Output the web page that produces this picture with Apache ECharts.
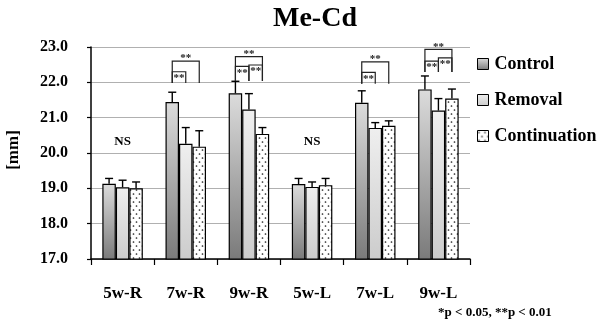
<!DOCTYPE html>
<html>
<head>
<meta charset="utf-8">
<script src="https://cdn.jsdelivr.net/npm/echarts@6/dist/echarts.min.js"></script>
<style>
html,body{margin:0;padding:0;background:#fff;}
#chart{width:600px;height:323px;}
</style>
</head>
<body>
<div id="chart"></div>
<script>
// ---- data ----
const categories = ['5w-R', '7w-R', '9w-R', '5w-L', '7w-L', '9w-L'];
const seriesNames = ['Control', 'Removal', 'Continuation'];
const control = [19.13, 21.44, 21.69, 19.12, 21.42, 21.80];
const controlSD = [0.15, 0.28, 0.34, 0.16, 0.34, 0.38];
const removal = [19.03, 20.26, 21.23, 19.04, 20.71, 21.20];
const removalSD = [0.20, 0.46, 0.45, 0.14, 0.15, 0.34];
const continuation = [19.00, 20.18, 20.54, 19.09, 20.77, 21.54];
const continuationSD = [0.18, 0.45, 0.18, 0.19, 0.14, 0.27];
const yTicks = [17, 18, 19, 20, 21, 22, 23];
// significance brackets: [category, fromBar, toBar, topValue, legBottomValue, text, textSide]
const brackets = [
  [1, 0, 2, 22.60, 21.98, '**', 'above'],
  [1, 0, 1, 22.30, 21.98, '**', 'below'],
  [2, 0, 2, 22.73, 22.04, '**', 'above'],
  [2, 0, 1, 22.45, 22.04, '**', 'below'],
  [2, 1, 2, 22.49, 22.04, '**', 'below'],
  [4, 0, 2, 22.58, 21.96, '**', 'above'],
  [4, 0, 1, 22.28, 21.96, '**', 'below'],
  [5, 0, 2, 22.93, 22.29, '**', 'above'],
  [5, 0, 1, 22.60, 22.29, '**', 'below'],
  [5, 1, 2, 22.69, 22.29, '**', 'below']
];
const nsLabels = [[0, 20.32, 'NS'], [3, 20.32, 'NS']];
const footnote = '*p < 0.05, **p < 0.01';

// ---- styles ----
const FONT = 'Liberation Serif';
const BAR_W = 13.5;
const dotCanvas = document.createElement('canvas');
dotCanvas.width = 6; dotCanvas.height = 8;
(function () {
  const c = dotCanvas.getContext('2d');
  c.fillStyle = '#ffffff'; c.fillRect(0, 0, 6, 8);
  c.fillStyle = '#222222';
  c.beginPath(); c.arc(1.5, 2, 0.85, 0, Math.PI * 2); c.fill();
  c.beginPath(); c.arc(4.5, 6, 0.85, 0, Math.PI * 2); c.fill();
})();
const fills = [
  new echarts.graphic.LinearGradient(0, 0, 0, 1, [{offset: 0, color: '#dcdcdc'}, {offset: 1, color: '#7a7a7a'}]),
  new echarts.graphic.LinearGradient(0, 0, 0, 1, [{offset: 0, color: '#efefef'}, {offset: 1, color: '#cccccc'}]),
  {image: dotCanvas, repeat: 'repeat'}
];
const values = [control, removal, continuation];
const sds = [controlSD, removalSD, continuationSD];

const barSeries = seriesNames.map((n, i) => ({
  name: n,
  type: 'bar',
  data: values[i],
  barWidth: BAR_W,
  barGap: '0%',
  itemStyle: {color: fills[i], borderColor: '#000', borderWidth: 1.2},
  z: 2
}));

const errSeries = seriesNames.map((n, i) => ({
  type: 'custom',
  data: values[i].map((v, k) => [k, v, sds[i][k]]),
  z: 3,
  silent: true,
  renderItem: function (params, api) {
    const b = api.coord([api.value(0), api.value(1)]);
    const t = api.coord([api.value(0), api.value(1) + api.value(2)]);
    const x = b[0] + (i - 1) * BAR_W;
    const st = {stroke: '#000', lineWidth: 1.4};
    return {type: 'group', children: [
      {type: 'line', shape: {x1: x, y1: b[1], x2: x, y2: t[1]}, style: st},
      {type: 'line', shape: {x1: x - 4, y1: t[1], x2: x + 4, y2: t[1]}, style: st}
    ]};
  }
}));

const bracketSeries = {
  type: 'custom',
  data: brackets.map(b => [b[0], b[1], b[2], b[3], b[4]]),
  z: 4,
  silent: true,
  renderItem: function (params, api) {
    const b = brackets[params.dataIndex];
    const top = api.coord([b[0], b[3]]);
    const bot = api.coord([b[0], b[4]]);
    const x1 = top[0] + (b[1] - 1) * BAR_W;
    const x2 = top[0] + (b[2] - 1) * BAR_W;
    const st = {stroke: '#222', lineWidth: 1.2, fill: null};
    const above = b[6] === 'above';
    return {type: 'group', children: [
      {type: 'polyline', shape: {points: [[x1, bot[1]], [x1, top[1]], [x2, top[1]], [x2, bot[1]]]}, style: st},
      {type: 'text', x: (x1 + x2) / 2, y: above ? top[1] + 3 : top[1] + 1,
       style: {text: b[5], fill: '#222', font: 'bold 11px "' + FONT + '"', align: 'center', verticalAlign: above ? 'bottom' : 'top'}}
    ]};
  }
};

const nsSeries = {
  type: 'custom',
  data: nsLabels.map(d => [d[0], d[1]]),
  z: 4,
  silent: true,
  renderItem: function (params, api) {
    const p = api.coord([api.value(0), api.value(1)]);
    return {type: 'text', x: p[0], y: p[1],
      style: {text: nsLabels[params.dataIndex][2], fill: '#000', font: 'bold 13px "' + FONT + '"', align: 'center', verticalAlign: 'middle'}};
  }
};

const chart = echarts.init(document.getElementById('chart'), null, {renderer: 'canvas'});
chart.setOption({
  animation: false,
  backgroundColor: '#fff',
  title: [
    {text: 'Me-Cd', left: 268, top: 0, textStyle: {fontFamily: FONT, fontWeight: 'bold', fontSize: 28, color: '#000'}},
    {text: footnote, left: 433, top: 301, textStyle: {fontFamily: FONT, fontWeight: 'bold', fontSize: 13, color: '#000'}}
  ],
  legend: {
    data: seriesNames,
    orient: 'vertical',
    left: 472,
    top: 50,
    itemWidth: 11,
    itemHeight: 11,
    itemGap: 18,
    icon: 'rect',
    itemStyle: {borderColor: '#000', borderWidth: 1},
    textStyle: {fontFamily: FONT, fontWeight: 'bold', fontSize: 18, color: '#000', lineHeight: 18, padding: [0, 0, 0, 1]}
  },
  grid: {left: 91, right: 130, top: 47, bottom: 64},
  xAxis: {
    type: 'category',
    data: categories,
    axisLine: {lineStyle: {color: '#000', width: 1.5}},
    axisTick: {show: true, length: 6, lineStyle: {color: '#000', width: 1.2}},
    axisLabel: {margin: 26, fontFamily: FONT, fontWeight: 'bold', fontSize: 17, color: '#000'}
  },
  yAxis: {
    type: 'value',
    min: yTicks[0],
    max: yTicks[yTicks.length - 1],
    interval: 1,
    axisLine: {show: true, lineStyle: {color: '#000', width: 1.5}},
    axisTick: {show: true, length: 4, lineStyle: {color: '#000', width: 1.2}},
    axisLabel: {margin: 23, fontFamily: FONT, fontWeight: 'bold', fontSize: 16, color: '#000',
      formatter: v => v.toFixed(1)},
    splitLine: {lineStyle: {color: '#b0b0b0', width: 1}}
  },
  graphic: [
    {type: 'text', x: 13.5, y: 150, rotation: Math.PI / 2,
     style: {text: '[mm]', fill: '#000', font: 'bold 17px "' + FONT + '"', align: 'center', verticalAlign: 'middle'}}
  ],
  series: [...barSeries, ...errSeries, bracketSeries, nsSeries]
});
</script>
</body>
</html>
